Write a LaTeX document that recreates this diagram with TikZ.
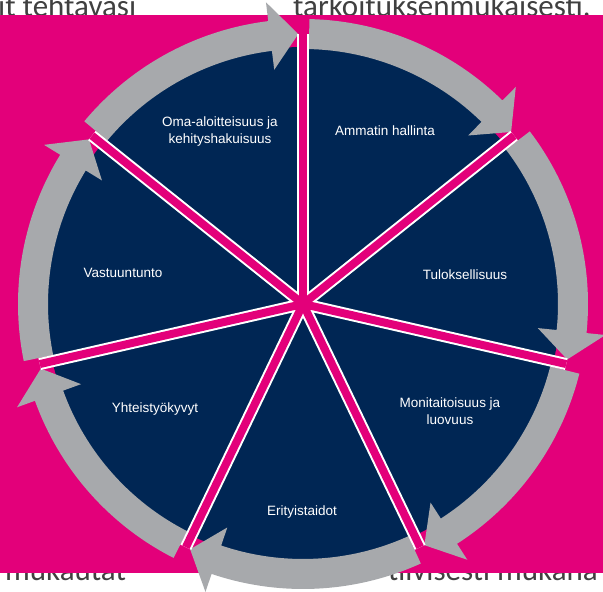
\documentclass[tikz,border=0pt]{standalone}
\usepackage{fontspec}
\setsansfont{Liberation Sans}
\newfontfamily\carlito{Carlito}
\definecolor{ringmagenta}{RGB}{227,0,122}
\definecolor{ringnavy}{RGB}{0,38,84}
\definecolor{ringgray}{RGB}{167,169,172}
\definecolor{textgray}{RGB}{64,64,64}

\begin{document}
\begin{tikzpicture}[x=1pt, y=1pt,
  lbl/.style={text=white, align=center, inner sep=0pt, font=\sffamily\fontsize{13.5}{17}\selectfont},
  cuttext/.style={text=textgray, inner sep=0pt, font=\carlito\fontsize{31}{36}\selectfont},
  spokeout/.style={white, line width=12pt},
  spokein/.style={ringmagenta, line width=8pt},
  ringarrow/.style={fill=ringgray}]
\useasboundingbox (0,0) rectangle (603,592);
\clip (0,0) rectangle (603,592);
% text of the page behind the figure
\node[cuttext, anchor=base west] (top1) at (-2,575.5) {it tehtäväsi};
\node[cuttext, anchor=base west] (top2) at (293,575.5) {tarkoituksenmukaisesti.};
\node[cuttext, anchor=base west] (bot1) at (5,11) {mukautat};
\node[cuttext, anchor=base east] (bot2) at (598,11) {tiivisesti mukana};
\fill[ringmagenta] (0,19) rectangle (603,577);
\coordinate (c) at (303,288);
\fill[ringnavy] (c) circle (257pt);
\begin{scope}[shift={(c)}]
\fill[ringarrow] (88.7:285pt) arc[start angle=88.7, end angle=45.571, radius=285pt] -- (45.571:304pt) -- (39.571:270pt) -- (45.571:236pt) -- (45.571:255pt) arc[start angle=45.571, end angle=88.7, radius=255pt] -- cycle;
\fill[ringarrow] (37.271:285pt) arc[start angle=37.271, end angle=-5.857, radius=285pt] -- (-5.857:304pt) -- (-11.857:270pt) -- (-5.857:236pt) -- (-5.857:255pt) arc[start angle=-5.857, end angle=37.271, radius=255pt] -- cycle;
\fill[ringarrow] (-14.157:285pt) arc[start angle=-14.157, end angle=-57.286, radius=285pt] -- (-57.286:304pt) -- (-63.286:270pt) -- (-57.286:236pt) -- (-57.286:255pt) arc[start angle=-57.286, end angle=-14.157, radius=255pt] -- cycle;
\fill[ringarrow] (-65.586:285pt) arc[start angle=-65.586, end angle=-108.714, radius=285pt] -- (-108.714:304pt) -- (-114.714:270pt) -- (-108.714:236pt) -- (-108.714:255pt) arc[start angle=-108.714, end angle=-65.586, radius=255pt] -- cycle;
\fill[ringarrow] (-117.014:285pt) arc[start angle=-117.014, end angle=-160.143, radius=285pt] -- (-160.143:304pt) -- (-166.143:270pt) -- (-160.143:236pt) -- (-160.143:255pt) arc[start angle=-160.143, end angle=-117.014, radius=255pt] -- cycle;
\fill[ringarrow] (-168.443:285pt) arc[start angle=-168.443, end angle=-211.571, radius=285pt] -- (-211.571:304pt) -- (-217.571:270pt) -- (-211.571:236pt) -- (-211.571:255pt) arc[start angle=-211.571, end angle=-168.443, radius=255pt] -- cycle;
\fill[ringarrow] (-219.871:285pt) arc[start angle=-219.871, end angle=-263, radius=285pt] -- (-263:304pt) -- (-269:270pt) -- (-263:236pt) -- (-263:255pt) arc[start angle=-263, end angle=-219.871, radius=255pt] -- cycle;
\coordinate (s0) at (90:270pt);
\coordinate (s1) at (38.571:270pt);
\coordinate (s2) at (-12.857:270pt);
\coordinate (s3) at (-64.286:270pt);
\coordinate (s4) at (-115.714:270pt);
\coordinate (s5) at (-167.143:270pt);
\coordinate (s6) at (-218.571:270pt);
\end{scope}
\draw[spokeout] (c) -- (s0);
\draw[spokeout] (c) -- (s1);
\draw[spokeout] (c) -- (s2);
\draw[spokeout] (c) -- (s3);
\draw[spokeout] (c) -- (s4);
\draw[spokeout] (c) -- (s5);
\draw[spokeout] (c) -- (s6);
\draw[spokein] (c) -- (s0);
\draw[spokein] (c) -- (s1);
\draw[spokein] (c) -- (s2);
\draw[spokein] (c) -- (s3);
\draw[spokein] (c) -- (s4);
\draw[spokein] (c) -- (s5);
\draw[spokein] (c) -- (s6);
\node[lbl] (oma) at (220,460) {Oma-aloitteisuus ja\\kehityshakuisuus};
\node[lbl] (ammatti) at (385,461) {Ammatin hallinta};
\node[lbl] (tulos) at (465,317) {Tuloksellisuus};
\node[lbl] (moni) at (450,181) {Monitaitoisuus ja\\luovuus};
\node[lbl] (erityis) at (302,80) {Erityistaidot};
\node[lbl] (yhteis) at (155,183) {Yhteistyökyvyt};
\node[lbl] (vastuu) at (123,319) {Vastuuntunto};
\end{tikzpicture}
\end{document}
